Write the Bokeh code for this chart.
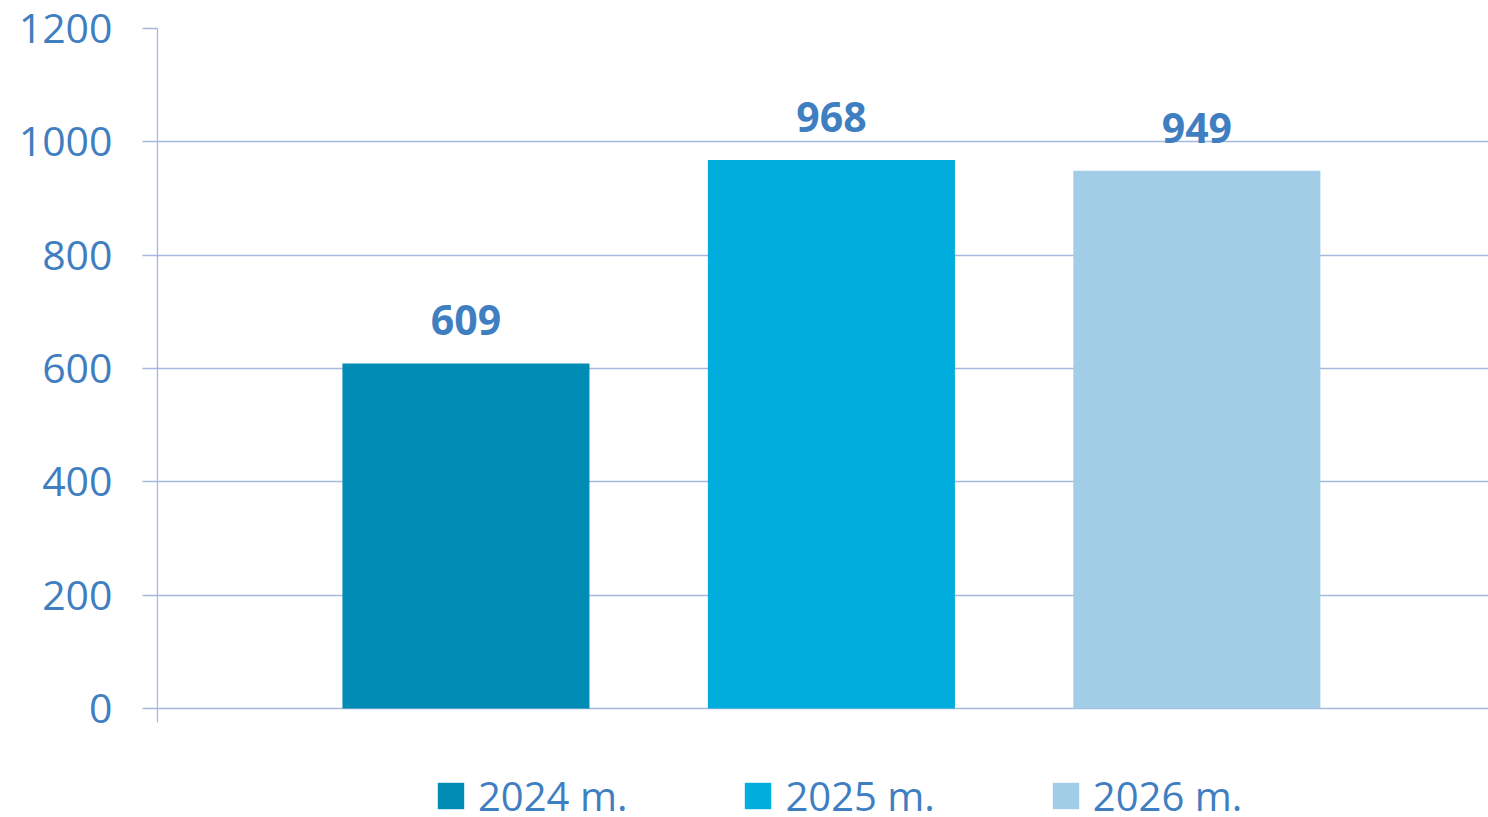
from bokeh.plotting import figure
from bokeh.models import ColumnDataSource, Range1d, FixedTicker, Legend, LegendItem
from bokeh.core.properties import value
from bokeh.embed import file_html
from bokeh.resources import INLINE

# ---- data ----
series = ["2024 m.", "2025 m.", "2026 m."]
values = [609, 968, 949]
colors = ["#008CB4", "#00ADDC", "#A1CDE6"]
y_ticks = [0, 200, 400, 600, 800, 1000, 1200]

TEXT = "#3F7FC1"
GRID = "#A6B9DC"
FONT = "Open Sans"

xs = [i + 1 for i in range(len(series))]
src = ColumnDataSource(dict(x=xs, top=values, color=colors, name=series,
                            label=[str(v) for v in values]))

p = figure(
    frame_width=1331, frame_height=789,
    x_range=Range1d(0.156, 3.798), y_range=Range1d(-192.35, 1200),
    output_backend="svg", toolbar_location=None,
    x_axis_location=None, min_border_left=157, min_border_top=28,
    min_border_right=0, min_border_bottom=0,
)
p.outline_line_color = None
p.background_fill_color = "white"
p.border_fill_color = "white"

p.xgrid.visible = False
p.ygrid.grid_line_color = GRID
p.ygrid.grid_line_width = 1.3
p.yaxis.ticker = FixedTicker(ticks=y_ticks)
p.yaxis.bounds = (-24.7, 1200)
p.yaxis.axis_line_color = GRID
p.yaxis.axis_line_width = 1.3
p.yaxis.major_tick_line_color = GRID
p.yaxis.major_tick_line_width = 1.3
p.yaxis.major_tick_out = 15
p.yaxis.major_tick_in = 0
p.yaxis.minor_tick_line_color = None
p.yaxis.major_label_standoff = 30
p.yaxis.major_label_text_font = FONT
p.yaxis.major_label_text_font_size = "41px"
p.yaxis.major_label_text_color = TEXT

bars = p.vbar(x="x", top="top", bottom=0, width=0.676, color="color",
              line_color=None, source=src)

p.text(x="x", y="top", text="label", source=src, text_align="center",
       text_baseline="alphabetic", y_offset=-43,
       text_font=value(FONT), text_font_style="bold",
       text_font_size="41px", text_color=TEXT)

items = [LegendItem(label=s, renderers=[bars], index=i) for i, s in enumerate(series)]
legend = Legend(items=items, orientation="horizontal", location=(277, -6),
                glyph_width=33, glyph_height=33, label_standoff=11, spacing=114,
                padding=0, margin=0, border_line_color=None,
                background_fill_alpha=0,
                label_text_font=FONT, label_text_font_size="40px",
                label_text_color=TEXT)
p.add_layout(legend, "center")

open("out.html", "w").write(file_html(p, INLINE))
